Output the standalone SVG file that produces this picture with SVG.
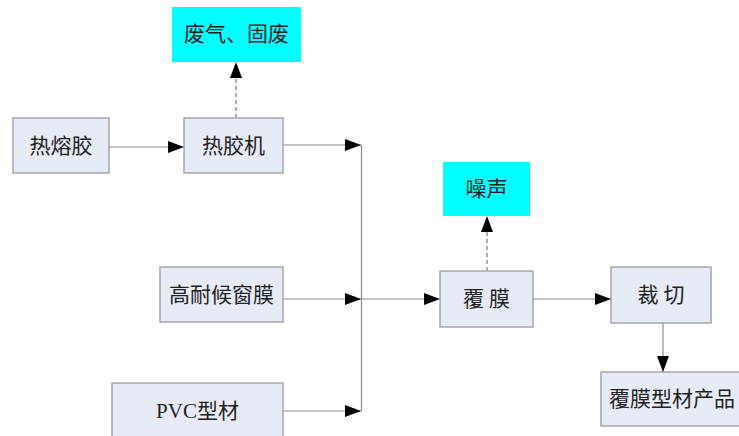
<svg xmlns="http://www.w3.org/2000/svg" width="739" height="436" viewBox="0 0 739 436">
<defs>
<style>
.box{fill:#E6EBF6;stroke:#A6A6A6;stroke-width:1.5}
.emit{fill:#00FFFF;stroke:none}
.t{font-family:"Liberation Serif","Noto Sans CJK SC",serif;font-size:21px;fill:#222;text-anchor:middle;dominant-baseline:central}
.ln{stroke:#8C8C8C;stroke-width:1.2;fill:none}
.dash{stroke:#777;stroke-width:1.2;fill:none;stroke-dasharray:4,3}
</style>
<marker id="ah" viewBox="0 0 16 12" refX="16" refY="6" markerWidth="16" markerHeight="12" markerUnits="userSpaceOnUse" orient="auto">
<path d="M0,0 L16,6 L0,12 Z" fill="#000"/>
</marker>
</defs>
<rect width="739" height="436" fill="#fff"/>
<g id="connectors">
<line class="ln" x1="109" y1="147" x2="184" y2="147" marker-end="url(#ah)"/>
<line class="dash" x1="236" y1="118" x2="236" y2="62" marker-end="url(#ah)"/>
<line class="ln" x1="283" y1="145" x2="361" y2="145" marker-end="url(#ah)"/>
<line class="ln" x1="283" y1="299" x2="361" y2="299" marker-end="url(#ah)"/>
<line class="ln" x1="283" y1="411" x2="361" y2="411" marker-end="url(#ah)"/>
<line class="ln" x1="361.5" y1="145" x2="361.5" y2="411"/>
<line class="ln" x1="361" y1="299" x2="440" y2="299" marker-end="url(#ah)"/>
<line class="dash" x1="487" y1="271" x2="487" y2="216" marker-end="url(#ah)"/>
<line class="ln" x1="533" y1="299" x2="611" y2="299" marker-end="url(#ah)"/>
<line class="ln" x1="663" y1="323" x2="663" y2="372" marker-end="url(#ah)"/>
</g>
<g id="n-rrj"><rect class="box" x="13" y="118" width="96" height="55"/><text class="t" x="61" y="146">热熔胶</text></g>
<g id="n-rjj"><rect class="box" x="184" y="118" width="99" height="55"/><text class="t" x="233.5" y="146">热胶机</text></g>
<g id="n-fq"><rect class="emit" x="172" y="7" width="129" height="55"/><text class="t" x="236.5" y="34">废气、固废</text></g>
<g id="n-gnh"><rect class="box" x="160" y="267" width="123" height="55"/><text class="t" x="221.5" y="295">高耐候窗膜</text></g>
<g id="n-pvc"><rect class="box" x="112" y="383" width="171" height="60"/><text class="t" x="197.5" y="411">PVC型材</text></g>
<g id="n-fm"><rect class="box" x="440" y="271" width="93" height="56"/><text class="t" x="486.5" y="299">覆 膜</text></g>
<g id="n-zs"><rect class="emit" x="443" y="162" width="87" height="54"/><text class="t" x="486.5" y="189">噪声</text></g>
<g id="n-cq"><rect class="box" x="611" y="267" width="100" height="56"/><text class="t" x="661" y="295">裁 切</text></g>
<g id="n-cp"><rect class="box" x="601" y="372" width="142" height="54"/><text class="t" x="672" y="399">覆膜型材产品</text></g>
</svg>
